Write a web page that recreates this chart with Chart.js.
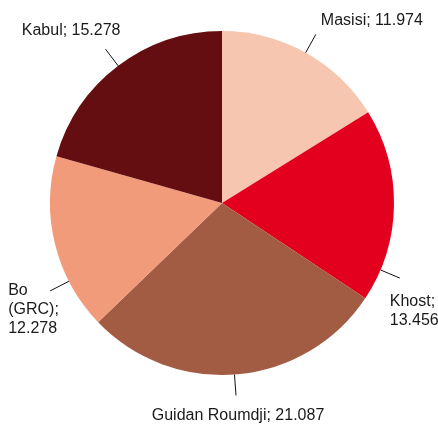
<!DOCTYPE html>
<html>
<head>
<meta charset="utf-8">
<script src="https://cdn.jsdelivr.net/npm/chart.js@4"></script>
<style>
  body { margin: 0; background: #fff; }
  #wrap { width: 438px; height: 426px; }
</style>
</head>
<body>
<div id="wrap"><canvas id="pieChart" width="438" height="426"></canvas></div>
<script>
// Data
const places = ['Masisi', 'Khost', 'Guidan Roumdji', 'Bo (GRC)', 'Kabul'];
const values = [11.974, 13.456, 21.087, 12.278, 15.278];
const sliceColors = ['#f6c6b0', '#e3001f', '#a35c44', '#f29b7b', '#650e12'];

// label text lines per slice
const labelLines = [
    ['Masisi; 11.974'],
    ['Khost;', '13.456'],
    ['Guidan Roumdji; 21.087'],
    ['Bo', '(GRC);', '12.278'],
    ['Kabul; 15.278']
];

// leader line + label placement (angle shift in degrees, text offset from line end)
const labelPlace = [
    { shift: 0,   dx: 5,   dy: -14, align: 'left' },
    { shift: 22,  dx: -10, dy: 24,  align: 'left' },
    { shift: 1,   dx: 2,   dy: 20,  align: 'center' },
    { shift: -13, dx: -42, dy: 0,   align: 'left' },
    { shift: 0,   dx: 15,  dy: -19, align: 'right' }
];

const pieLabels = {
    id: 'pieLabels',
    afterDatasetsDraw(chart) {
        const ctx = chart.ctx;
        const meta = chart.getDatasetMeta(0);
        ctx.save();
        ctx.strokeStyle = '#111';
        ctx.lineWidth = 1;
        ctx.fillStyle = '#1a1a1a';
        ctx.font = '16px "Liberation Sans", Arial, sans-serif';
        ctx.textBaseline = 'middle';
        meta.data.forEach((arc, i) => {
            const p = labelPlace[i];
            const mid = (arc.startAngle + arc.endAngle) / 2 + p.shift * Math.PI / 180;
            const r = arc.outerRadius;
            const x1 = arc.x + Math.cos(mid) * r;
            const y1 = arc.y + Math.sin(mid) * r;
            const x2 = arc.x + Math.cos(mid) * (r + 21);
            const y2 = arc.y + Math.sin(mid) * (r + 21);
            ctx.beginPath();
            ctx.moveTo(x1, y1);
            ctx.lineTo(x2, y2);
            ctx.stroke();
            ctx.textAlign = p.align;
            labelLines[i].forEach((line, j) => {
                ctx.fillText(line, x2 + p.dx, y2 + p.dy + j * 19);
            });
        });
        ctx.restore();
    }
};

new Chart(document.getElementById('pieChart').getContext('2d'), {
    type: 'pie',
    data: {
        labels: places,
        datasets: [{
            data: values,
            backgroundColor: sliceColors,
            borderWidth: 0
        }]
    },
    options: {
        responsive: false,
        animation: false,
        layout: { padding: { left: 50, right: 44, top: 31, bottom: 51 } },
        plugins: {
            legend: { display: false },
            tooltip: { enabled: false }
        }
    },
    plugins: [pieLabels]
});
</script>
</body>
</html>
